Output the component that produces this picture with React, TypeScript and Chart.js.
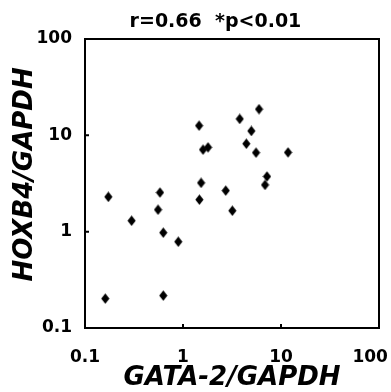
import React, { useEffect, useRef } from "react";
import { Chart, registerables } from "chart.js";

Chart.register(...registerables);

const gataValues = [0.173, 0.161, 0.299, 0.582, 0.556, 0.629, 0.629, 0.895, 1.46, 1.60, 1.80, 1.53, 1.47, 2.73, 3.19, 3.79, 4.43, 4.98, 5.97, 5.56, 7.19, 6.87, 11.8];
const hoxbValues = [2.30, 0.202, 1.30, 2.55, 1.69, 0.976, 0.217, 0.787, 12.6, 7.10, 7.50, 3.21, 2.15, 2.67, 1.65, 14.8, 8.18, 11.1, 18.7, 6.61, 3.74, 3.06, 6.65];
const tickValues = [0.1, 1, 10, 100];
const tickLabels = ["0.1", "1", "10", "100"];
const chartTitle = "r=0.66  *p<0.01";
const xTitle = "GATA-2/GAPDH";
const yTitle = "HOXB4/GAPDH";

const FONT = "'DejaVu Sans', sans-serif";

function makeDiamond(): HTMLCanvasElement {
  const c = document.createElement("canvas");
  c.width = 9;
  c.height = 11;
  const ctx = c.getContext("2d")!;
  ctx.fillStyle = "#000";
  ctx.beginPath();
  ctx.moveTo(4.5, 0.3);
  ctx.lineTo(8.6, 5.5);
  ctx.lineTo(4.5, 10.7);
  ctx.lineTo(0.4, 5.5);
  ctx.closePath();
  ctx.fill();
  return c;
}

const framePlugin = {
  id: "frameTicks",
  afterDraw(chart: any) {
    const { ctx, chartArea } = chart;
    const { left, right, top, bottom } = chartArea;
    ctx.save();
    ctx.strokeStyle = "#000";
    ctx.lineWidth = 2;
    ctx.strokeRect(left, top, right - left, bottom - top);
    const xs = chart.scales.x;
    const ys = chart.scales.y;
    ctx.beginPath();
    tickValues.forEach((v) => {
      const px = xs.getPixelForValue(v);
      if (px > left + 2 && px < right - 2) {
        ctx.moveTo(px, bottom);
        ctx.lineTo(px, bottom - 4);
      }
      const py = ys.getPixelForValue(v);
      if (py > top + 2 && py < bottom - 2) {
        ctx.moveTo(left, py);
        ctx.lineTo(left + 4, py);
      }
    });
    ctx.stroke();
    ctx.restore();
  },
};

export default function App() {
  const ref = useRef<HTMLCanvasElement | null>(null);
  useEffect(() => {
    if (!ref.current) return;
    const diamond = makeDiamond();
    const pts = gataValues.map((x, i) => ({ x, y: hoxbValues[i] }));
    const chart = new Chart(ref.current, {
      type: "scatter",
      data: {
        datasets: [
          {
            data: pts,
            pointStyle: diamond as any,
            pointRadius: 5,
            backgroundColor: "#000",
            borderColor: "#000",
          },
        ],
      },
      options: {
        animation: false,
        responsive: false,
        layout: { padding: { left: 0, right: 12, top: 0, bottom: 0 } },
        plugins: {
          legend: { display: false },
          tooltip: { enabled: false },
          title: {
            display: true,
            text: chartTitle + "     ",
            fullSize: false,
            color: "#000",
            font: { family: FONT, size: 19, weight: "bold", lineHeight: 1.2 },
            padding: { top: 11, bottom: 5.2 },
          },
        },
        scales: {
          x: {
            type: "logarithmic",
            min: 0.1,
            max: 100,
            grid: { display: false },
            border: { display: false },
            afterBuildTicks: (s: any) => {
              s.ticks = tickValues.map((v) => ({ value: v }));
            },
            afterFit: (s: any) => {
              s.height = 64;
              s.paddingRight = 0;
              s.paddingLeft = 0;
            },
            ticks: {
              color: "#000",
              padding: 11,
              maxRotation: 0,
              autoSkip: false,
              font: { family: FONT, size: 17, weight: "bold" },
              callback: (v: any, i: number) =>
                i === tickLabels.length - 1 ? tickLabels[i] + "   " : tickLabels[i],
            },
            title: {
              display: true,
              text: xTitle,
              color: "#000",
              font: { family: FONT, size: 26, weight: "bold", style: "italic", lineHeight: 1 },
              padding: { top: 0, bottom: 1 },
            },
          },
          y: {
            type: "logarithmic",
            min: 0.1,
            max: 100,
            grid: { display: false },
            border: { display: false },
            afterBuildTicks: (s: any) => {
              s.ticks = tickValues.map((v) => ({ value: v }));
            },
            afterFit: (s: any) => {
              s.width = 85;
              s.paddingTop = 0;
              s.paddingBottom = 0;
            },
            ticks: {
              color: "#000",
              padding: 5,
              autoSkip: false,
              font: { family: FONT, size: 17, weight: "bold" },
              callback: (v: any, i: number) => tickLabels[i],
            },
            title: {
              display: true,
              text: "  " + yTitle,
              color: "#000",
              font: { family: FONT, size: 26, weight: "bold", style: "italic", lineHeight: 1 },
              padding: { top: 12, bottom: 0 },
            },
          },
        },
      },
      plugins: [framePlugin],
    });
    return () => chart.destroy();
  }, []);
  return (
    <div style={{ position: "fixed", left: 0, top: 0, width: 391, height: 392, background: "#fff" }}>
      <canvas ref={ref} width={391} height={392} />
    </div>
  );
}
